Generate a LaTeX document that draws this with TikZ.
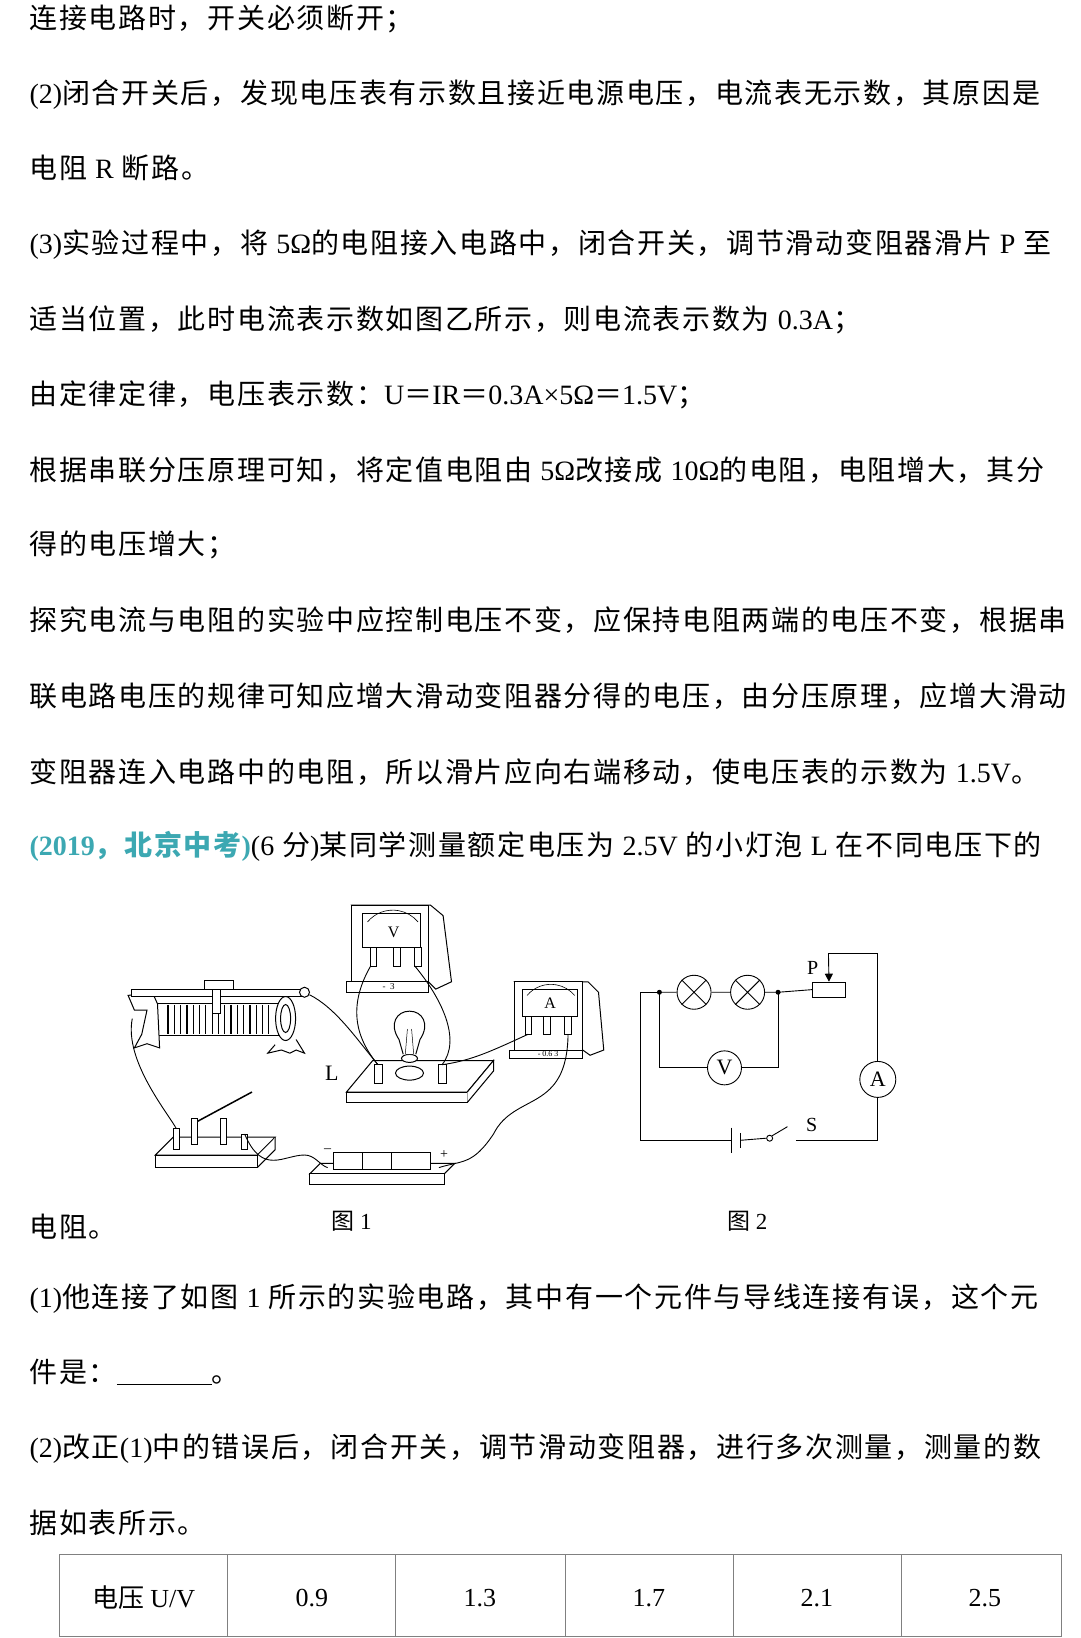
\documentclass[tikz,border=0pt]{standalone}
\usepackage{fontspec}
\setmainfont{Liberation Serif}
\newfontfamily\cjk[LetterSpace=6]{Noto Sans CJK SC}
\newfontfamily\cjkt{Noto Sans CJK SC}
\newcommand\en[1]{{\rmfamily #1}}
\definecolor{tealc}{RGB}{60,168,178}
\usetikzlibrary{arrows.meta}
\begin{document}
\begin{tikzpicture}[x=1.05pt,y=-1.05pt,
  line/.style={anchor=west,inner sep=0pt,font=\fontsize{28}{28}\selectfont\cjk},
  wire/.style={line width=0.9pt},
  dev/.style={line width=1pt,fill=white},
  figcap/.style={font=\fontsize{23}{23}\selectfont\cjkt}]
\useasboundingbox[fill=white] (0,0) rectangle (1028.6,1560);
\node[line] (t1) at (28,18) {连接电路时，开关必须断开；};
\node[line] (t2) at (28,90) {\en{(2)}闭合开关后，发现电压表有示数且接近电源电压，电流表无示数，其原因是};
\node[line] (t3) at (28,160) {电阻 \en{R} 断路。};
\node[line] (t4) at (28,233) {\en{(3)}实验过程中，将 \en{5Ω}的电阻接入电路中，闭合开关，调节滑动变阻器滑片 \en{P} 至};
\node[line] (t5) at (28,305) {适当位置，此时电流表示数如图乙所示，则电流表示数为 \en{0.3A}；};
\node[line] (t6) at (28,376) {由定律定律，电压表示数：\en{U}＝\en{IR}＝\en{0.3A×5Ω}＝\en{1.5V}；};
\node[line] (t7) at (28,448) {根据串联分压原理可知，将定值电阻由 \en{5Ω}改接成 \en{10Ω}的电阻，电阻增大，其分};
\node[line] (t8) at (28,519) {得的电压增大；};
\node[line] (t9) at (28,591) {探究电流与电阻的实验中应控制电压不变，应保持电阻两端的电压不变，根据串};
\node[line] (t10) at (28,663) {联电路电压的规律可知应增大滑动变阻器分得的电压，由分压原理，应增大滑动};
\node[line] (t11) at (28,735) {变阻器连入电路中的电阻，所以滑片应向右端移动，使电压表的示数为 \en{1.5V}。};
\node[line] (t12) at (28,806) {{\color{tealc}\bfseries\en{(2019}，北京中考\en{)}}\en{(6} 分\en{)}某同学测量额定电压为 \en{2.5V} 的小灯泡 \en{L} 在不同电压下的};
\node[line] (t13) at (28,1168) {电阻。};
\node[line] (t14) at (28,1237) {\en{(1)}他连接了如图 \en{1} 所示的实验电路，其中有一个元件与导线连接有误，这个元};
\node[line] (t15) at (28,1307) {件是：\en{\underline{\hspace{95pt}}}。};
\node[line] (t16) at (28,1380) {\en{(2)}改正\en{(1)}中的错误后，闭合开关，调节滑动变阻器，进行多次测量，测量的数};
\node[line] (t17) at (28,1450) {据如表所示。};
\node[figcap] (c1) at (335,1163) {图 \en{1}};
\node[figcap] (c2) at (712,1163) {图 \en{2}};
% table
\draw[gray,line width=0.8pt] (57,1480) rectangle (1011,1558);
\foreach \x in {217,377,538,698,858} \draw[gray,line width=0.8pt] (\x,1480) -- (\x,1558);
\node[font=\fontsize{26}{26}\selectfont\cjkt] (h) at (137,1522) {电压 \en{U/V}};
\foreach \x/\v [count=\i] in {297/0.9,457/1.3,618/1.7,778/2.1,938/2.5}
  \node[font=\fontsize{26}{26}\selectfont] (v\i) at (\x,1522) {\v};
% ---------- figure 2 ----------
\coordinate (ja) at (628,945); \coordinate (jb) at (741,945);
\node[draw,circle,minimum size=34pt,inner sep=0pt,wire] (l1) at (661,945) {};
\node[draw,circle,minimum size=34pt,inner sep=0pt,wire] (l2) at (712,945) {};
\draw[wire] (l1.north east)--(l1.south west) (l1.north west)--(l1.south east);
\draw[wire] (l2.north east)--(l2.south west) (l2.north west)--(l2.south east);
\node[draw,circle,minimum size=34pt,inner sep=0pt,wire,font=\fontsize{22}{22}\selectfont] (vm) at (690,1017) {V};
\node[draw,circle,minimum size=36pt,inner sep=0pt,wire,font=\fontsize{22}{22}\selectfont] (am) at (836,1028) {A};
\node[draw,rectangle,minimum width=33pt,minimum height=15pt,inner sep=0pt,wire] (rh) at (789.5,942.5) {};
\node[font=\fontsize{20}{20}\selectfont] (pl) at (774,922) {P};
\node[font=\fontsize{20}{20}\selectfont] (sl) at (773,1071) {S};
\coordinate (bn) at (697,1086); \coordinate (bp) at (705,1086);
\node[draw,circle,inner sep=0pt,minimum size=6pt,wire] (sw) at (733,1084) {};
\coordinate (swe) at (750,1073); \coordinate (swr) at (758,1086);
\draw[wire] (ja) -- (l1) -- (l2) -- (jb) -- (rh.west);
\draw[wire] (ja) -- (610,945) -- (610,1086) -- (bn);
\draw[wire] (bn) ++(0,-12) -- ++(0,24);
\draw[wire] (bp) ++(0,-7) -- ++(0,14);
\draw[wire] (bp) -- (sw.west);
\draw[wire] (sw.north east) -- (swe);
\draw[wire] (swr) -- (836,1086) -- (am.south);
\draw[wire] (am.north) -- (836,908) -- (789,908);
\draw[wire,-{Triangle[length=8pt,width=8pt]}] (789,908) -- (rh.north);
\draw[wire] (ja) -- (628,1017) -- (vm.west);
\draw[wire] (vm.east) -- (741,1017) -- (jb);
\fill (ja) circle (2.5pt) (jb) circle (2.5pt);
% ---------- figure 1 ----------
% rheostat
\draw[dev] (150,956) rectangle (265,986);
\foreach \x in {160,166,...,256} \draw[line width=1.2pt] (\x,957)--(\x,985);
\draw[dev] (122,948) -- (128,962) -- (140,962) -- (135,985) -- (128,998) -- (140,994) -- (152,998) -- (150,956) -- (145,945) -- cycle;
\draw[dev] (272,970) ellipse (10pt and 22pt);
\draw[dev] (272,970) ellipse (5pt and 14pt);
\draw[dev] (262,995) -- (255,1003) -- (268,1000) -- (276,1003) -- (282,1000) -- (290,1003) -- (282,990);
\draw[dev] (125,942) rectangle (292,949);
\draw[dev] (195,934) rectangle (222,942);
\draw[dev] (202,942) rectangle (210,965);
\node[dev,circle,draw,inner sep=0pt,minimum size=10pt] (rt1) at (290,945) {};
\coordinate (rl) at (126,970);
% voltmeter
\draw[dev] (335,862) -- (410,862) -- (422,872) -- (430,935) -- (415,942) -- (408,935) -- cycle;
\draw[dev] (335,862) rectangle (408,935);
\draw[dev] (345,870) rectangle (400,902);
\node[font=\fontsize{16}{16}\selectfont] (vl) at (375,888) {V};
\draw[line width=0.6pt] (350,878) arc[start angle=140,end angle=40,radius=33pt];
\draw[dev] (330,935) rectangle (408,945);
\foreach \x in {353,375,395} \draw[dev] (\x,902) rectangle (\x+6,920);
\node[font=\fontsize{9}{9}\selectfont] (vs) at (370,940) {-\ \ 3};
\coordinate (vt1) at (353,920); \coordinate (vt2) at (395,920);
% ammeter
\draw[dev] (490,935) -- (560,935) -- (570,945) -- (575,1000) -- (562,1005) -- (555,1000) -- cycle;
\draw[dev] (490,935) rectangle (555,1000);
\draw[dev] (498,942) rectangle (550,968);
\node[font=\fontsize{16}{16}\selectfont] (al) at (524,955) {A};
\draw[line width=0.6pt] (502,948) arc[start angle=140,end angle=40,radius=31pt];
\draw[dev] (485,1000) rectangle (555,1008);
\foreach \x in {500,518,538} \draw[dev] (\x,968) rectangle (\x+6,985);
\node[font=\fontsize{8}{8}\selectfont] (as) at (522,1004) {-\ 0.6\ 3};
\coordinate (at1) at (503,985); \coordinate (at2) at (541,985);
% lamp base
\draw[dev] (330,1040) -- (355,1010) -- (470,1010) -- (445,1040) -- cycle;
\draw[dev] (330,1040) rectangle (445,1050);
\draw[dev] (445,1050) -- (470,1020) -- (470,1010) -- (445,1040);
\draw[dev] (390,1022) ellipse (14pt and 7pt);
\draw[dev] (390,1008) ellipse (8pt and 4pt);
\draw[dev] (384,1004) -- (380,990) .. controls (370,975) and (378,963) .. (390,963) .. controls (402,963) and (410,975) .. (400,990) -- (396,1004);
\draw[line width=0.5pt] (386,1004) -- (388,980) (394,1004) -- (392,980);
\draw[dev] (357,1014) rectangle (364,1032);
\draw[dev] (418,1014) rectangle (425,1032);
\coordinate (lt1) at (360,1014); \coordinate (lt2) at (421,1014);
\node[font=\fontsize{22}{22}\selectfont] (ll) at (316,1022) {L};
% switch
\draw[dev] (148,1100) -- (165,1083) -- (262,1083) -- (245,1100) -- cycle;
\draw[dev] (148,1100) rectangle (245,1112);
\draw[dev] (245,1112) -- (262,1095) -- (262,1083);
\draw[dev] (182,1065) rectangle (188,1090);
\draw[dev] (210,1065) rectangle (216,1090);
\draw[dev,line width=1.5pt] (188,1068) -- (240,1040);
\draw[dev] (165,1075) rectangle (171,1095);
\draw[dev] (230,1080) rectangle (236,1095);
\coordinate (st1) at (168,1075); \coordinate (st2) at (233,1080);
% battery
\draw[dev] (295,1118) -- (305,1108) -- (433,1108) -- (423,1118) -- cycle;
\draw[dev] (295,1118) rectangle (423,1128);
\draw[dev] (318,1098) rectangle (410,1114);
\draw[line width=0.8pt] (345,1098)--(345,1114) (373,1098)--(373,1114);
\coordinate (bt1) at (312,1112); \coordinate (bt2) at (418,1112);
\node[font=\fontsize{14}{14}\selectfont] (bm) at (312,1096) {--};
\node[font=\fontsize{14}{14}\selectfont] (bpl) at (423,1100) {+};
% wires
\draw[wire] (rl) .. controls (118,1010) and (160,1060) .. (st1);
\draw[wire] (rt1) .. controls (320,960) and (340,990) .. (lt1);
\draw[wire] (vt1) .. controls (330,960) and (340,990) .. (lt1);
\draw[wire] (vt2) .. controls (420,950) and (440,990) .. (lt2);
\draw[wire] (lt2) .. controls (450,1010) and (470,1000) .. (at1);
\draw[wire] (at2) .. controls (540,1060) and (490,1040) .. (470,1080) .. controls (450,1110) and (440,1105) .. (bt2);
\draw[wire] (st2) .. controls (250,1120) and (270,1100) .. (290,1100) .. controls (300,1100) and (305,1110) .. (bt1);
\end{tikzpicture}
\end{document}
